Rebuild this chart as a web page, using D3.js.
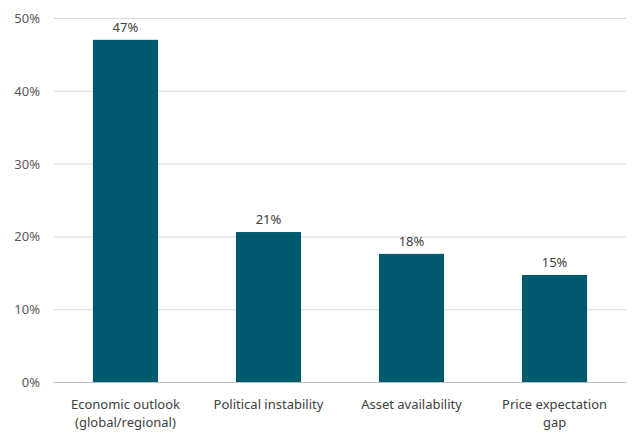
<!DOCTYPE html>
<html><head><meta charset="utf-8">
<script src="https://cdn.jsdelivr.net/npm/d3@7"></script>
<style>body{margin:0;background:#fff}svg{display:block}text{font-family:"Noto Sans",Lato,sans-serif;fill:#404040}</style>
</head><body><svg id="c" width="640" height="441"></svg>
<script>
(function(){
const categories = [["Economic outlook","(global/regional)"],["Political instability"],["Asset availability"],["Price expectation","gap"]];
const values = [47.0, 20.6, 17.6, 14.7];
const yTicks = [0,10,20,30,40,50];

const svg = d3.select("#c");
const pL=54, pR=626, pT=18, pB=382;
const x = d3.scaleBand().domain(d3.range(categories.length)).range([pL,pR]).paddingInner(0.545).paddingOuter(0.272);
const y = d3.scaleLinear().domain([0,50]).range([pB,pT]);

svg.append("g").selectAll("line").data(yTicks).join("line")
  .attr("x1",pL).attr("x2",pR).attr("y1",d=>y(d)+0.5).attr("y2",d=>y(d)+0.5)
  .attr("stroke",d=>d===0?"#bfbfbf":"#d9d9d9").attr("stroke-width",1);
svg.append("g").selectAll("text").data(yTicks).join("text")
  .attr("x",40).attr("y",d=>y(d)+5).attr("text-anchor","end").attr("font-size",13).style("fill","#595959")
  .text(d=>d+"%");

svg.append("g").selectAll("rect").data(values).join("rect")
  .attr("x",(d,i)=>x(i)).attr("width",x.bandwidth()).attr("y",d=>y(d)).attr("height",d=>y(0)-y(d))
  .attr("fill","#005a6e");
svg.append("g").selectAll("text").data(values).join("text")
  .attr("x",(d,i)=>x(i)+x.bandwidth()/2).attr("y",d=>y(d)-8).attr("text-anchor","middle").attr("font-size",13)
  .text(d=>Math.round(d)+"%");

const g = svg.append("g");
categories.forEach((lines,i)=>{
  const t = g.append("text").attr("x",x(i)+x.bandwidth()/2).attr("y",409).attr("text-anchor","middle").attr("font-size",13).style("fill","#404040");
  lines.forEach((l,j)=>t.append("tspan").attr("x",x(i)+x.bandwidth()/2).attr("dy",j?18:0).text(l));
});
})();
</script></body></html>
